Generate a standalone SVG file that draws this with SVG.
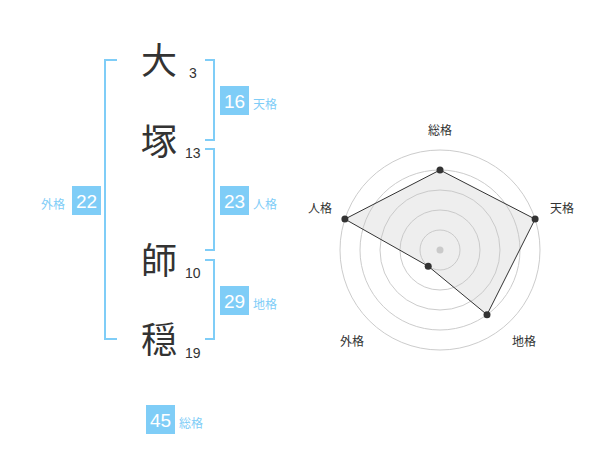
<svg xmlns="http://www.w3.org/2000/svg" width="600" height="470" viewBox="0 0 600 470">
<style>
.kanji{font-family:"Noto Sans CJK JP","Noto Sans CJK SC",sans-serif;font-size:36px;fill:#333}
.stroke{font-family:"Liberation Sans",Arial,sans-serif;font-size:14px;fill:#333}
.br{fill:none;stroke:#7fcdf7;stroke-width:2}
.box{fill:#7fcdf7}
.num{font-family:"Liberation Sans",Arial,sans-serif;font-size:19px;fill:#fff;text-anchor:middle}
.lbl{font-family:"Noto Sans CJK JP","Noto Sans CJK SC",sans-serif;font-size:12px;fill:#7fcdf7}
.ring{fill:none;stroke:#ccc;stroke-width:1}
.axl{font-family:"Noto Sans CJK JP","Noto Sans CJK SC",sans-serif;font-size:12px;fill:#333;text-anchor:middle}
</style>
<rect width="600" height="470" fill="#fff"/>
<g id="name-chars">
<g id="c1"><text class="kanji" x="141" y="74">大</text><text class="stroke" x="189" y="78">3</text></g>
<g id="c2"><text class="kanji" x="141" y="155">塚</text><text class="stroke" x="185" y="158">13</text></g>
<g id="c3"><text class="kanji" x="141" y="274">師</text><text class="stroke" x="185" y="278">10</text></g>
<g id="c4"><text class="kanji" x="141" y="353">穏</text><text class="stroke" x="185" y="358">19</text></g>
</g>
<g id="connectors">
<path class="br" d="M117,60 H105 V339 H117"/>
<path class="br" d="M205,60 H214 V140 H205"/>
<path class="br" d="M205,149 H214 V250 H205"/>
<path class="br" d="M205,260 H214 V339 H205"/>
</g>
<g id="tenkaku"><rect class="box" x="220" y="86" width="29" height="29"/><text class="num" x="234.5" y="107.5">16</text><text class="lbl" x="253" y="109">天格</text></g>
<g id="jinkaku"><rect class="box" x="220" y="186" width="29" height="29"/><text class="num" x="234.5" y="207.5">23</text><text class="lbl" x="253" y="209">人格</text></g>
<g id="chikaku"><rect class="box" x="220" y="286" width="29" height="29"/><text class="num" x="234.5" y="307.5">29</text><text class="lbl" x="253" y="309">地格</text></g>
<g id="gaikaku"><rect class="box" x="72" y="186" width="29" height="29"/><text class="num" x="86.5" y="207.5">22</text><text class="lbl" x="41" y="209">外格</text></g>
<g id="soukaku"><rect class="box" x="146" y="405" width="29" height="29"/><text class="num" x="160.5" y="426.5">45</text><text class="lbl" x="179" y="428">総格</text></g>
<g id="radar">
<circle class="ring" cx="440" cy="250" r="20"/>
<circle class="ring" cx="440" cy="250" r="40"/>
<circle class="ring" cx="440" cy="250" r="60"/>
<circle class="ring" cx="440" cy="250" r="80"/>
<circle class="ring" cx="440" cy="250" r="100"/>
<circle cx="440" cy="250" r="3.5" fill="#ccc"/>
<polygon points="440,170 535.1,219.1 487,314.7 428.2,266.2 344.9,219.1" fill="rgba(200,200,200,0.3)" stroke="#333" stroke-width="1"/>
<g fill="#333">
<circle cx="440" cy="170" r="3.5"/>
<circle cx="535.1" cy="219.1" r="3.5"/>
<circle cx="487" cy="314.7" r="3.5"/>
<circle cx="428.2" cy="266.2" r="3.5"/>
<circle cx="344.9" cy="219.1" r="3.5"/>
</g>
<text class="axl" x="440" y="135">総格</text>
<text class="axl" x="562" y="213">天格</text>
<text class="axl" x="524" y="346">地格</text>
<text class="axl" x="352" y="346">外格</text>
<text class="axl" x="320" y="213">人格</text>
</g>
</svg>
